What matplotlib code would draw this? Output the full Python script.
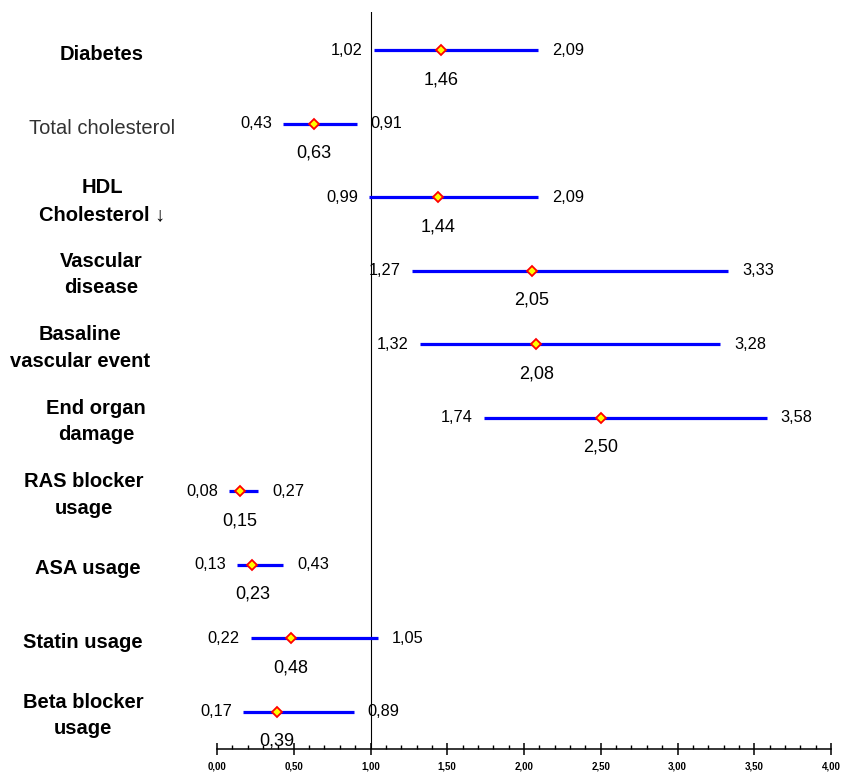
import matplotlib
matplotlib.use('Agg')
import matplotlib.pyplot as plt
from matplotlib.ticker import MultipleLocator, FuncFormatter

# Odds ratios with 95% CI
categories = ['Diabetes', 'Total cholesterol', 'HDL\nCholesterol \u2193', 'Vascular\ndisease',
              'Basaline\nvascular event', 'End organ\ndamage', 'RAS blocker\nusage',
              'ASA usage', 'Statin usage', 'Beta blocker\nusage']
estimate = [1.46, 0.63, 1.44, 2.05, 2.08, 2.50, 0.15, 0.23, 0.48, 0.39]
lower = [1.02, 0.43, 0.99, 1.27, 1.32, 1.74, 0.08, 0.13, 0.22, 0.17]
upper = [2.09, 0.91, 2.09, 3.33, 3.28, 3.58, 0.27, 0.43, 1.05, 0.89]

plt.rcParams['font.family'] = ['Liberation Sans', 'DejaVu Sans']


def fmt(v):
    return f'{v:.2f}'.replace('.', ',')


W, H = 843, 774
fig = plt.figure(figsize=(W / 100, H / 100), dpi=100)
fig.patch.set_facecolor('white')

# axes: x 0..4 spans px 217..831, bottom spine at px 749
ax = fig.add_axes([217 / W, 25 / H, 614 / W, 737 / H])
ax.set_xlim(0, 4)
ax.set_ylim(9.51, -0.517)

ax.axvline(1, color='black', lw=0.8, zorder=1)

for i, (est, lo, hi) in enumerate(zip(estimate, lower, upper)):
    ax.plot([lo, hi], [i, i], color='#0000ff', lw=2.3, solid_capstyle='butt', zorder=2)
    ax.plot(est, i, marker='D', ms=5.5, mfc='#ffff00', mec='#ff0000', mew=1.3, zorder=3)
    ax.annotate(fmt(lo), (lo, i), xytext=(-8, 0), textcoords='offset points',
                ha='right', va='center', fontsize=11.8, color='black')
    ax.annotate(fmt(hi), (hi, i), xytext=(10, 0), textcoords='offset points',
                ha='left', va='center', fontsize=11.8, color='black')
    ax.annotate(fmt(est), (est, i), xytext=(0, -21.5), textcoords='offset points',
                ha='center', va='center', fontsize=13, color='black')

# row labels on the left (centres in figure pixels)
label_x = [102, 102, 102, 101, 80, 96, 84, 88, 83, 83]
for i, (lab, lx) in enumerate(zip(categories, label_x)):
    y_disp = ax.transData.transform((0, i))[1]
    y_fig = fig.transFigure.inverted().transform((0, y_disp))[1]
    if lab == 'Total cholesterol':
        fig.text(lx / W, y_fig - 5 / H, lab, ha='center', va='center', fontsize=14.5,
                 color='#333333', fontweight='normal')
    else:
        fig.text(lx / W, y_fig - 4 / H, lab, ha='center', va='center', fontsize=14.5,
                 color='black', fontweight='bold', linespacing=1.5)

for s in ['left', 'right', 'top']:
    ax.spines[s].set_visible(False)
ax.spines['bottom'].set_linewidth(1.1)
ax.set_yticks([])
ax.xaxis.set_major_locator(MultipleLocator(0.5))
ax.xaxis.set_minor_locator(MultipleLocator(0.1))
ax.xaxis.set_major_formatter(FuncFormatter(lambda v, p: fmt(v)))
ax.tick_params(axis='x', which='major', direction='inout', length=8, width=1.1,
               labelsize=7, pad=5)
ax.tick_params(axis='x', which='minor', direction='in', length=3, width=1.0)
for t in ax.get_xticklabels():
    t.set_fontweight('bold')
ax.patch.set_alpha(0)

fig.savefig('out.png', dpi=100)
